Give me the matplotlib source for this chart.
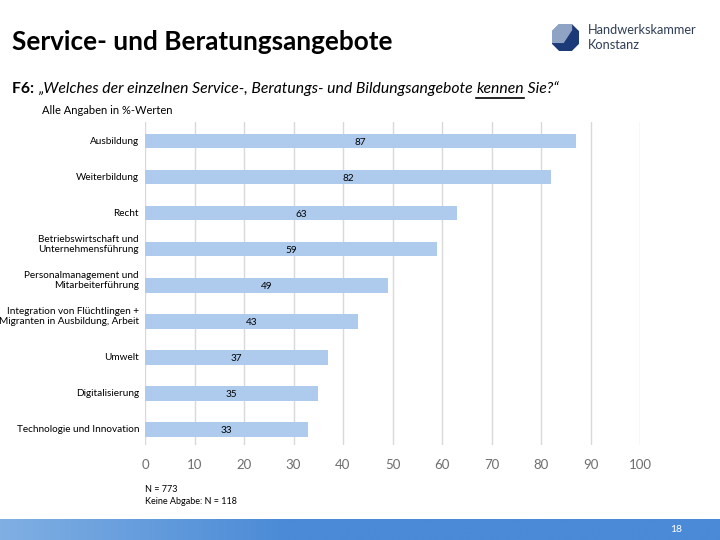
import matplotlib.pyplot as plt
import matplotlib.patches as mpatches
import numpy as np

plt.rcParams['font.family'] = ['Lato', 'DejaVu Sans']

# data
categories = [
    "Ausbildung",
    "Weiterbildung",
    "Recht",
    "Betriebswirtschaft und\nUnternehmensführung",
    "Personalmanagement und\nMitarbeiterführung",
    "Integration von Flüchtlingen +\nMigranten in Ausbildung, Arbeit",
    "Umwelt",
    "Digitalisierung",
    "Technologie und Innovation",
]
values = [87, 82, 63, 59, 49, 43, 37, 35, 33]
x_ticks = [0, 10, 20, 30, 40, 50, 60, 70, 80, 90, 100]

W, H = 720, 540
fig = plt.figure(figsize=(7.2, 5.4), dpi=100)


def fx(px):
    return px / W


def fy(py):
    return 1 - py / H


# title
fig.text(fx(12), fy(42), "Service- und Beratungsangebote", fontsize=18.8,
         fontweight='bold', va='center', ha='left', color='black')

# logo
logo_ax = fig.add_axes([fx(552), fy(51), fx(27), 27 / H])
logo_ax.set_xlim(0, 1)
logo_ax.set_ylim(0, 1)
logo_ax.axis('off')
octa = [(0.3, 0), (0.7, 0), (1, 0.3), (1, 0.7), (0.7, 1), (0.3, 1), (0, 0.7), (0, 0.3)]
logo_ax.add_patch(mpatches.Polygon(octa, closed=True, color='#1d3a78'))
logo_ax.add_patch(mpatches.Polygon([(0.3, 1), (0.72, 1), (0.72, 0.78), (0.42, 0.32), (0, 0.32), (0, 0.7)],
                                   closed=True, color='#8fa3c4'))
fig.text(fx(588), fy(30), "Handwerkskammer", fontsize=9.2, color='#2f3d55', va='center')
fig.text(fx(588), fy(45), "Konstanz", fontsize=9.2, color='#2f3d55', va='center')

# subtitle built from pieces
fig.canvas.draw()
renderer = fig.canvas.get_renderer()
x_pos = fx(12)
y_sub = fy(89)
pieces = [
    ("F6: ", dict(fontweight='bold', fontstyle='normal')),
    ("\u201eWelches der einzelnen Service-, Beratungs- und Bildungsangebote ", dict(fontstyle='italic')),
    ("kennen", dict(fontstyle='italic')),
    (" Sie?\u201c", dict(fontstyle='italic')),
]
for txt, kw in pieces:
    t = fig.text(x_pos, y_sub, txt, fontsize=11.3, va='center', ha='left', **kw)
    bb = t.get_window_extent(renderer=renderer)
    if txt == "kennen":
        fig.add_artist(plt.Line2D([bb.x0 / W, bb.x1 / W], [fy(98), fy(98)],
                                  transform=fig.transFigure, color='black', lw=1.2))
    x_pos = bb.x1 / W

fig.text(fx(42), fy(110), "Alle Angaben in %-Werten", fontsize=8, va='center', ha='left')

# main chart
ax = fig.add_axes([fx(145), fy(445), fx(640 - 145), (445 - 122) / H])
y = np.arange(len(categories))
ax.barh(y, values, height=0.41, color='#aecbee', edgecolor='none', zorder=3)
ax.set_xlim(0, 100)
ax.set_ylim(8.44, -0.53)
ax.set_xticks(x_ticks)
ax.set_xticklabels([str(v) for v in x_ticks], fontsize=9.5, color='#6e6e6e')
ax.tick_params(axis='x', length=0, pad=10)
ax.set_yticks([])
ax.grid(axis='x', color='#d9d9d9', lw=1, zorder=0)
for s in ax.spines.values():
    s.set_visible(False)

for i, (cat, v) in enumerate(zip(categories, values)):
    ax.text(-1.2, i + 0.14, cat, ha='right', va='bottom', fontsize=7.2,
            linespacing=1.2, transform=ax.transData, clip_on=False)
    ax.text(v / 2, i + 0.03, str(v), ha='center', va='center', fontsize=7.2, zorder=4)

fig.text(fx(145), fy(489), "N = 773", fontsize=6.5, va='center')
fig.text(fx(145), fy(502), "Keine Abgabe: N = 118", fontsize=6.5, va='center')

# bottom strip
strip = fig.add_axes([0, 0, 1, 21 / H])
grad = np.linspace(0, 1, 256)
c0 = np.array([0x80, 0xaf, 0xe3]) / 255
c1 = np.array([0x4a, 0x8a, 0xd6]) / 255
ramp = np.clip(grad / 0.4, 0, 1)
img = (c0[None, :] * (1 - ramp[:, None]) + c1[None, :] * ramp[:, None])[None, :, :]
strip.imshow(img, aspect='auto', extent=[0, 1, 0, 1])
strip.set_xlim(0, 1)
strip.set_ylim(0, 1)
strip.axis('off')
strip.text(676 / W, 0.5, "18", color='white', fontsize=7.5, ha='center', va='center')

fig.savefig("out.png", dpi=100)
